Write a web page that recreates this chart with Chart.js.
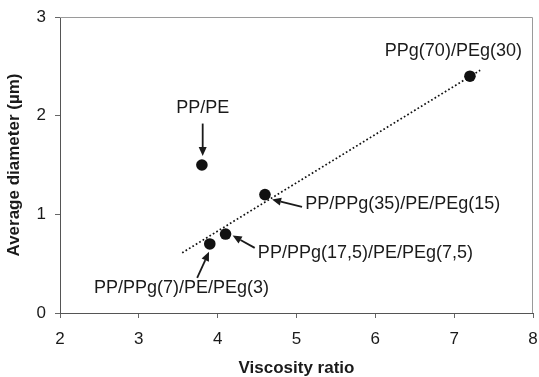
<!DOCTYPE html>
<html>
<head>
<meta charset="utf-8">
<script src="https://cdn.jsdelivr.net/npm/chart.js@4/dist/chart.umd.min.js"></script>
<style>
  html, body { margin: 0; padding: 0; background: #ffffff; }
  #wrap { width: 539px; height: 377px; }
</style>
</head>
<body>
<div id="wrap"><canvas id="c" width="539" height="377"></canvas></div>
<script>
// ---- data ----
const blendNames = ["PP/PE", "PP/PPg(7)/PE/PEg(3)", "PP/PPg(17,5)/PE/PEg(7,5)", "PP/PPg(35)/PE/PEg(15)", "PPg(70)/PEg(30)"];
const viscosityRatio = [3.8, 3.9, 4.1, 4.6, 7.2];
const avgDiameter = [1.5, 0.7, 0.8, 1.2, 2.4];
const trendX = [3.55, 7.33];
const trendY = [0.61, 2.46];
const xTicks = [2, 3, 4, 5, 6, 7, 8];
const yTicks = [0, 1, 2, 3];

// ---- annotation layout (data units, converted through the chart scales) ----
const labelLayout = [
  { text: blendNames[0], x: 3.81, y: 2.03, align: "center", arrow: [3.81, 1.92, 3.81, 1.59] },
  { text: blendNames[1], x: 2.43, y: 0.205, align: "left", arrow: [3.74, 0.355, 3.89, 0.62] },
  { text: blendNames[2], x: 4.51, y: 0.56, align: "left", arrow: [4.47, 0.66, 4.19, 0.785] },
  { text: blendNames[3], x: 5.11, y: 1.055, align: "left", arrow: [5.07, 1.075, 4.69, 1.15] },
  { text: blendNames[4], x: 6.99, y: 2.6, align: "center", arrow: null }
];

const FONT = "'Liberation Sans', Arial, Helvetica, sans-serif";
const TEXT = "#1a1a1a";

const points = viscosityRatio.map((v, i) => ({ x: v, y: avgDiameter[i] }));
const trend = trendX.map((v, i) => ({ x: v, y: trendY[i] }));

const framePlugin = {
  id: "frame",
  beforeDatasetsDraw(chart) {
    const { ctx, chartArea: a } = chart;
    ctx.save();
    ctx.strokeStyle = "#9a9a9a";
    ctx.lineWidth = 1;
    ctx.beginPath();
    ctx.moveTo(a.left, a.top + 0.5);
    ctx.lineTo(a.right - 0.5, a.top + 0.5);
    ctx.lineTo(a.right - 0.5, a.bottom);
    ctx.stroke();
    ctx.restore();
  }
};

const annotPlugin = {
  id: "annot",
  afterDatasetsDraw(chart) {
    const { ctx } = chart;
    const xs = chart.scales.x, ys = chart.scales.y;
    ctx.save();
    ctx.font = "18px " + FONT;
    ctx.fillStyle = TEXT;
    ctx.strokeStyle = TEXT;
    ctx.textBaseline = "alphabetic";
    labelLayout.forEach(l => {
      ctx.textAlign = l.align;
      ctx.fillText(l.text, xs.getPixelForValue(l.x), ys.getPixelForValue(l.y));
      if (l.arrow) {
        const x1 = xs.getPixelForValue(l.arrow[0]), y1 = ys.getPixelForValue(l.arrow[1]);
        const x2 = xs.getPixelForValue(l.arrow[2]), y2 = ys.getPixelForValue(l.arrow[3]);
        const ang = Math.atan2(y2 - y1, x2 - x1);
        const hl = 9, hw = 4;
        const bx = x2 - hl * Math.cos(ang), by = y2 - hl * Math.sin(ang);
        ctx.lineWidth = 1.8;
        ctx.beginPath();
        ctx.moveTo(x1, y1);
        ctx.lineTo(bx, by);
        ctx.stroke();
        ctx.beginPath();
        ctx.moveTo(x2, y2);
        ctx.lineTo(bx + hw * Math.sin(ang), by - hw * Math.cos(ang));
        ctx.lineTo(bx - hw * Math.sin(ang), by + hw * Math.cos(ang));
        ctx.closePath();
        ctx.fill();
      }
    });
    ctx.restore();
  }
};

new Chart(document.getElementById("c"), {
  type: "scatter",
  data: {
    datasets: [
      {
        label: "trend",
        data: trend,
        showLine: true,
        borderColor: "#111",
        borderWidth: 1.7,
        borderDash: [1.7, 2.3],
        pointRadius: 0,
        fill: false
      },
      {
        label: "blends",
        data: points,
        pointRadius: 5.8,
        pointBackgroundColor: "#111",
        pointBorderColor: "#111",
        pointBorderWidth: 0
      }
    ]
  },
  options: {
    responsive: false,
    animation: false,
    events: [],
    layout: { padding: { top: 17, right: 6, left: 0, bottom: 0 } },
    plugins: { legend: { display: false }, tooltip: { enabled: false } },
    scales: {
      x: {
        type: "linear",
        min: xTicks[0],
        max: xTicks[xTicks.length - 1],
        afterFit: s => { s.height = 64; s.paddingLeft = 0; s.paddingRight = 0; },
        afterBuildTicks: s => { s.ticks = xTicks.map(v => ({ value: v })); },
        grid: { drawOnChartArea: false, drawTicks: true, tickLength: 5, color: "#666", lineWidth: 1 },
        border: { display: true, color: "#555", width: 1 },
        ticks: { color: TEXT, padding: 11, font: { family: FONT, size: 17 } },
        title: {
          display: true,
          text: "Viscosity ratio",
          color: TEXT,
          font: { family: FONT, size: 17, weight: "bold", lineHeight: 1 },
          padding: { top: 0, bottom: 0 }
        }
      },
      y: {
        type: "linear",
        min: yTicks[0],
        max: yTicks[yTicks.length - 1],
        afterFit: s => { s.width = 60; s.paddingTop = 0; s.paddingBottom = 0; },
        afterBuildTicks: s => { s.ticks = yTicks.map(v => ({ value: v })); },
        grid: { drawOnChartArea: false, drawTicks: true, tickLength: 5, color: "#666", lineWidth: 1 },
        border: { display: true, color: "#555", width: 1 },
        ticks: { color: TEXT, padding: 9, font: { family: FONT, size: 17 } },
        title: {
          display: true,
          text: "Average diameter (µm)",
          color: TEXT,
          font: { family: FONT, size: 17, weight: "bold", lineHeight: 1 },
          padding: { top: 6, bottom: 0 }
        }
      }
    }
  },
  plugins: [framePlugin, annotPlugin]
});
</script>
</body>
</html>
